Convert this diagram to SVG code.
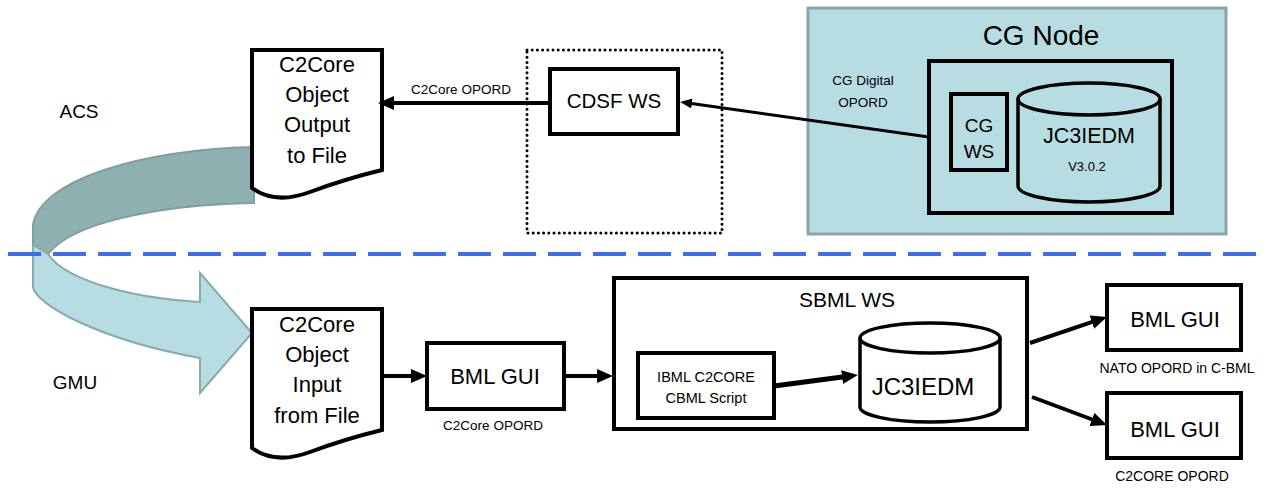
<svg xmlns="http://www.w3.org/2000/svg" width="1274" height="488" viewBox="0 0 1274 488">
<style>
text{font-family:"Liberation Sans",Arial,sans-serif;fill:#000;text-anchor:middle}
.box{fill:#fff;stroke:#000;stroke-width:4}
.boxn{fill:none;stroke:#000;stroke-width:4}
.cyl{fill:none;stroke:#000;stroke-width:3.5}
.ln{fill:none;stroke:#000;stroke-width:4}
.t22{font-size:22px}
.t14{font-size:13.5px}
</style>
<defs>
<marker id="ah" markerUnits="userSpaceOnUse" markerWidth="16" markerHeight="14" refX="6" refY="7" orient="auto"><path d="M0,0 L16,7 L0,14 z" fill="#000"/></marker>
<marker id="ahs" markerUnits="userSpaceOnUse" markerWidth="12" markerHeight="10" refX="4" refY="5" orient="auto"><path d="M0,0 L12,5 L0,10 z" fill="#000"/></marker>
</defs>
<rect width="1274" height="488" fill="#fff"/>

<g id="uturn">
<path d="M254,147 C140,150 40,180 33,225 L33,245 L48,254 C70,225 150,205 254,203 Z" fill="#8fb0b1" stroke="#7f9ea0" stroke-width="2"/>
<path d="M33,245 L33,287 C36,305 100,340 200,358 L200,393 L252,333 L200,273 L200,302 C130,298 65,280 48,254 Z" fill="#b7dde3" stroke="#8aabad" stroke-width="2"/>
</g>

<line id="divider" x1="8" y1="254" x2="1264" y2="254" stroke="#3b6ef5" stroke-width="4" stroke-dasharray="33 12"/>

<g id="labels">
<text x="79" y="118" style="font-size:19px">ACS</text>
<text x="75" y="389" style="font-size:19px">GMU</text>
</g>

<g id="doc-out">
<path class="box" d="M252,50 H382 V170 Q345,179 310,192 Q275,205 252,188 Z"/>
<text class="t22" x="317" y="72">C2Core</text>
<text class="t22" x="317" y="102">Object</text>
<text class="t22" x="317" y="132">Output</text>
<text class="t22" x="317" y="163">to File</text>
</g>

<g id="cdsf-group">
<rect x="527" y="50" width="195" height="183" fill="none" stroke="#000" stroke-width="3" stroke-dasharray="0 5.2" stroke-linecap="round"/>
</g>
<g id="cdsf-ws">
<rect class="box" x="550" y="69" width="128" height="65"/>
<text x="614" y="108" style="font-size:20.5px">CDSF WS</text>
</g>

<g id="cg-node">
<rect x="808" y="8" width="418" height="226" fill="#b7dde3" stroke="#8aa5a8" stroke-width="3"/>
<text x="1041" y="45" style="font-size:28px">CG Node</text>
<text x="863" y="85" style="font-size:13.5px">CG Digital</text>
<text x="863" y="107" style="font-size:13.5px">OPORD</text>
<rect class="boxn" x="929" y="61" width="243" height="152"/>
</g>
<g id="cg-ws">
<rect class="boxn" x="951" y="94" width="56" height="76"/>
<text x="979" y="132" style="font-size:19px">CG</text>
<text x="979" y="158" style="font-size:19px">WS</text>
</g>
<g id="cg-db">
<path class="cyl" d="M1018,99 V186 A71,16 0 0 0 1160,186 V99"/>
<ellipse class="cyl" cx="1089" cy="99" rx="71" ry="16"/>
<text x="1089" y="143" style="font-size:21.5px">JC3IEDM</text>
<text x="1087" y="171" style="font-size:13px">V3.0.2</text>
</g>

<g id="doc-in">
<path class="box" d="M252,309 H382 V430 Q345,439 310,452 Q275,465 252,448 Z"/>
<text class="t22" x="317" y="332">C2Core</text>
<text class="t22" x="317" y="362">Object</text>
<text class="t22" x="317" y="392">Input</text>
<text class="t22" x="317" y="423">from File</text>
</g>

<g id="bml-gui-1">
<rect class="box" x="427" y="343" width="137" height="66"/>
<text class="t22" x="495" y="384">BML GUI</text>
<text class="t14" x="493" y="430">C2Core OPORD</text>
</g>

<g id="sbml-ws">
<rect class="boxn" x="614" y="278" width="413" height="151"/>
<text x="847" y="307" style="font-size:21px">SBML WS</text>
</g>
<g id="ibml-script">
<rect class="boxn" x="638" y="353" width="136" height="65"/>
<text x="706" y="382" style="font-size:14.5px">IBML C2CORE</text>
<text x="706" y="403" style="font-size:14.5px">CBML Script</text>
</g>
<g id="sbml-db">
<path class="cyl" d="M860,338 V407 A70,15 0 0 0 1000,407 V338"/>
<ellipse class="cyl" cx="930" cy="338" rx="70" ry="15"/>
<text x="923" y="395" style="font-size:24px">JC3IEDM</text>
</g>

<g id="bml-gui-nato">
<rect class="box" x="1107" y="285" width="134" height="65"/>
<text class="t22" x="1175" y="327">BML GUI</text>
<text x="1177" y="373" style="font-size:14px">NATO OPORD in C-BML</text>
</g>
<g id="bml-gui-c2core">
<rect class="box" x="1107" y="393" width="134" height="65"/>
<text class="t22" x="1175" y="437">BML GUI</text>
<text x="1172" y="481" style="font-size:14px">C2CORE OPORD</text>
</g>

<g id="connectors">
<line class="ln" x1="550" y1="103" x2="388" y2="103" marker-end="url(#ah)"/>
<text class="t14" x="461" y="94">C2Core OPORD</text>
<line x1="929" y1="137" x2="688" y2="103" stroke="#000" stroke-width="3" marker-end="url(#ahs)"/>
<line class="ln" x1="384" y1="376" x2="417" y2="376" marker-end="url(#ah)"/>
<line class="ln" x1="564" y1="376" x2="603" y2="376" marker-end="url(#ah)"/>
<line x1="774" y1="386" x2="848" y2="376.3" stroke="#000" stroke-width="5" marker-end="url(#ah)"/>
<line class="ln" x1="1030" y1="343" x2="1097.5" y2="320.2" marker-end="url(#ah)"/>
<line class="ln" x1="1032" y1="397" x2="1097.6" y2="421.5" marker-end="url(#ah)"/>
</g>
</svg>
